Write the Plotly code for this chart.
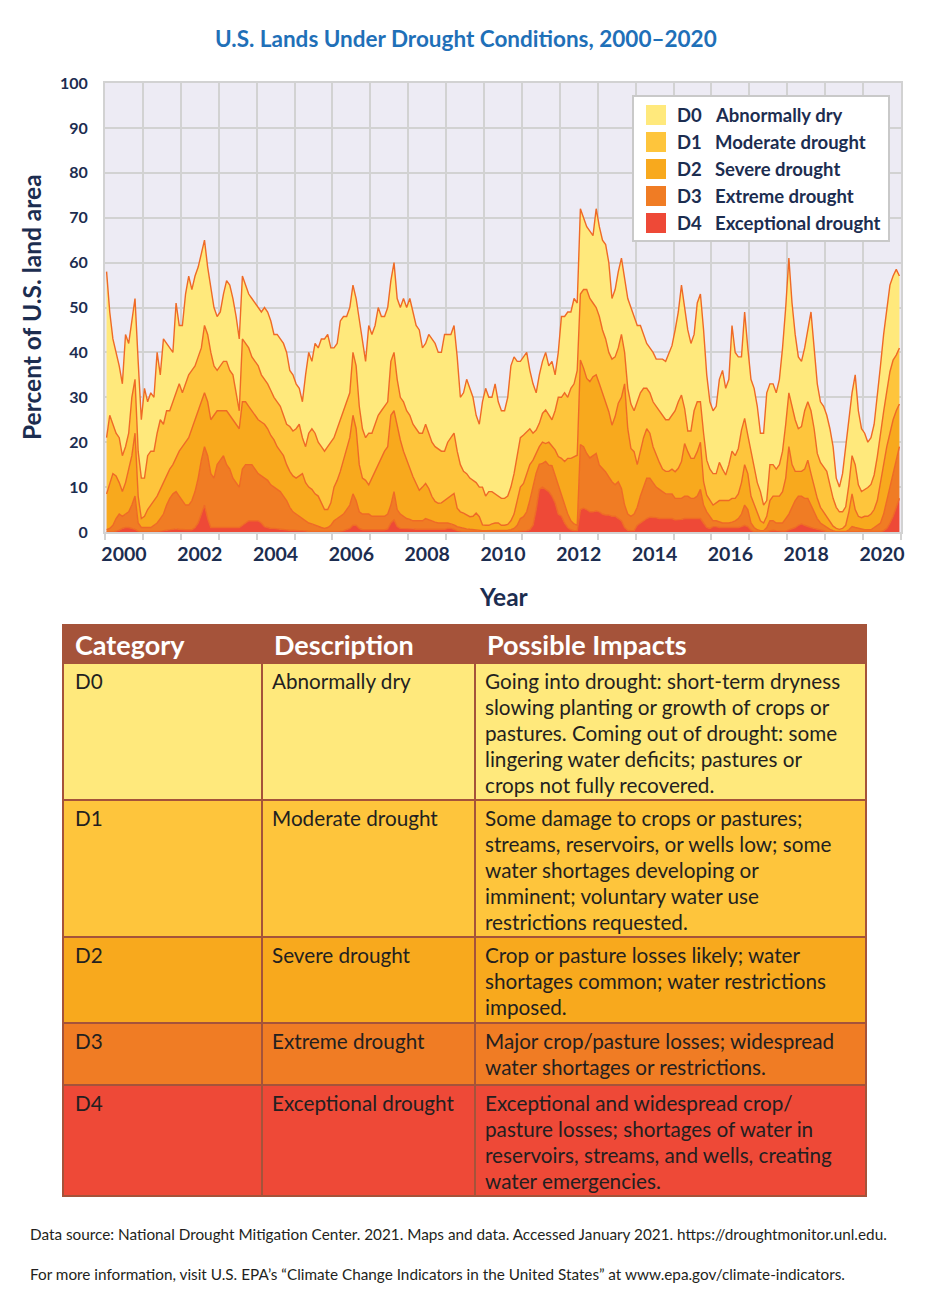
import numpy as np
import plotly.graph_objects as go

# ---------------- data (percent of U.S. land area, cumulative categories, monthly 2000-2020) -------------
years = list(range(2000, 2021))
months = list(range(12))

d0_d4 = [
    58, 49, 43, 40, 37, 33, 44, 42, 47, 52, 38, 25,   # 2000
    32, 29, 31, 30, 40, 35, 43, 42, 41, 40, 51, 46,   # 2001
    46, 53, 57, 54, 57, 59, 62, 65, 59, 54, 50, 48,   # 2002
    49, 53, 56, 55, 52, 48, 43, 57, 55, 53, 52, 51,   # 2003
    50, 49, 50, 49, 47, 44, 44, 43, 42, 40, 36, 35,   # 2004
    33, 32, 29, 35, 40, 38, 42, 41, 43, 43, 44, 41,   # 2005
    41, 42, 47, 48, 48, 50, 55, 52, 47, 43, 38, 46,   # 2006
    44, 46, 50, 48, 48, 50, 56, 60, 52, 50, 52, 50,   # 2007
    52, 49, 46, 45, 41, 42, 44, 43, 42, 40, 40, 44,   # 2008
    44, 44, 46, 39, 30, 31, 34, 32, 30, 26, 24, 29,   # 2009
    32, 30, 30, 33, 29, 27, 27, 30, 37, 39, 38, 38,   # 2010
    39, 40, 36, 33, 31, 35, 38, 40, 37, 38, 35, 40,   # 2011
    48, 48, 49, 49, 52, 51, 72, 70, 68, 67, 66, 72,   # 2012
    68, 65, 64, 60, 52, 54, 58, 61, 56, 52, 50, 48,   # 2013
    46, 46, 44, 42, 41, 40, 38.5, 38.5, 38.5, 38, 40, 41.5,  # 2014
    45, 49, 55, 50, 45, 42, 44, 51, 53, 45, 35, 29,   # 2015
    27, 28, 34, 36, 32, 34, 46, 40, 39, 39, 49, 41,   # 2016
    34, 32, 28, 22, 22, 31, 33, 33, 31, 34, 41, 50,   # 2017
    61, 51, 44, 39, 38, 41, 45, 49, 41, 33, 29, 28,   # 2018
    26, 23, 19, 12, 10, 13, 19, 25, 31, 35, 27, 23,   # 2019
    22, 20, 21, 24, 30, 37, 44, 50, 55, 57, 58.5, 57, # 2020
]

d1_d4 = [
    21, 26, 24, 22, 21, 17, 19, 22, 30, 34, 18, 12,
    12, 17, 18, 18, 22, 25, 24, 27, 27, 29, 31, 33,
    31, 33, 35, 36, 37, 39, 41, 46, 44, 40, 37, 36,
    37, 38, 38, 36, 35, 31, 27, 43, 42, 41, 39, 38,
    37, 35, 34, 33, 31.5, 30, 29, 28, 26, 24, 23.5, 22.5,
    23, 24, 21, 19, 22, 23, 22, 20, 19, 18, 19, 20,
    21, 23, 25, 27, 29, 31, 40, 37, 28, 23, 21, 22,
    22, 24, 26, 27, 28, 29, 38, 40, 34, 30, 29, 27,
    26, 24, 23, 22, 22, 24, 22, 20, 19, 18.5, 18, 18,
    20, 21, 22, 18, 15, 13.5, 13, 12, 11.5, 11, 10, 10,
    8, 9, 9, 8.5, 8, 7.5, 7.5, 8, 10, 13, 17, 21,
    21.6, 22.3, 23, 22, 22.7, 24.2, 26.4, 27.2, 26, 25, 27, 30,
    30, 31, 30, 32, 33, 36, 53, 54, 54, 52, 51, 50,
    48, 45, 43, 40, 38.5, 39, 41, 44, 40, 32, 28.5, 27,
    29, 31, 32, 32, 31, 29, 28, 27, 26, 25, 25, 26,
    27, 29, 30.5, 27.5, 22.5, 22.5, 27, 29, 29, 22, 16, 14,
    13, 13, 15.5, 14, 12.7, 15, 18, 17, 18.6, 22.7, 25.3, 21.6,
    18, 14, 11, 9, 6, 7, 15, 15, 14, 15, 18, 24,
    31, 28, 25, 23, 23.5, 27, 29, 27, 23, 17.5, 15.5, 14.5,
    13.5, 10.5, 7.5, 5.5, 4.5, 4.5, 5.6, 10.5, 17, 15, 10.5, 9,
    9.4, 9.9, 10.6, 12.7, 16.8, 22.3, 26.8, 31.3, 35.7, 38.3, 39.4, 41,
]

d2_d4 = [
    8.5, 11, 13, 12.5, 11, 9, 11, 14, 17, 22, 8, 3,
    3.5, 5, 6, 7, 8, 9.5, 11, 12.5, 14, 15, 16.5, 18,
    19, 20, 21, 23, 25, 27, 29, 31, 29, 25, 26, 27,
    27, 27, 27, 26, 25, 24, 23, 29, 29, 28, 27, 26,
    25, 24.5, 24, 23, 21.5, 20.5, 19, 18, 17, 15, 13.5, 12.5,
    12, 12.5, 13, 11, 10, 9.5, 8.5, 8, 6.5, 5, 5, 6.5,
    10, 11.5, 13.5, 16, 19, 21, 26, 23, 15, 12, 11.5, 10.5,
    12, 13.5, 15, 16.5, 18, 19, 26, 27, 23.5, 20.5, 18, 16,
    14.5, 12.3, 10.8, 9.3, 10, 10.8, 9.7, 7.9, 6.8, 6.4, 6.5, 7,
    7.5, 8.2, 8.6, 5.3, 4.5, 4.2, 3.8, 3.4, 3.5, 4.2, 3.4, 1.6,
    1.5, 1.5, 1.8, 2, 2, 1.5, 1.5, 1.7, 2.5, 4, 7, 10,
    10.8, 13, 15, 16, 17.5, 19, 20, 19.7, 20, 19.2, 18.3, 16.8,
    16.4, 15.7, 16.4, 16.4, 16.8, 17.1, 38.3, 36.5, 34.2, 33.5, 34.6, 35,
    33, 31, 28.7, 26.8, 23.8, 25.7, 28.7, 30, 33, 23, 18.6, 17.9,
    15, 18, 21, 23, 22, 19, 17, 15.5, 14, 13.5, 13.5, 14,
    13.4, 14.2, 15.7, 19.7, 17.9, 16.4, 16.4, 17.9, 20, 11.2, 8.2, 7.1,
    6, 6.5, 7, 7, 7, 7, 7.5, 7.5, 8.5, 11, 15, 13,
    8, 6, 4, 2.5, 2, 3.5, 7, 8, 8, 8, 9, 12,
    19, 15, 13.5, 13.5, 13.5, 14, 16, 13, 10, 7.5, 5.5, 4.5,
    3.5, 2.5, 1.3, 0.8, 0.6, 0.8, 1.5, 4.5, 8.5, 5, 3.5, 3.2,
    3.5, 3.5, 4, 5, 7, 11, 15, 19, 22, 25, 27, 28.5,
]

d3_d4 = [
    0.5, 0.8, 1.5, 3, 4, 3.5, 4, 4.5, 6, 8, 2, 1,
    1, 1, 1, 1.5, 2, 3, 4, 6, 7.5, 8.5, 9, 8,
    7, 6, 6, 7, 9, 12, 16, 19, 17, 13, 12, 15,
    16, 17, 15, 14, 12, 11, 10, 14, 15, 15, 15, 14,
    13, 12.5, 12, 11.5, 10.5, 10, 9.5, 9, 8, 7, 5.5, 4.5,
    4, 3.5, 3, 2.5, 2, 1.8, 1.5, 1.2, 1, 0.8, 1, 1.5,
    2.5, 3, 3.5, 4, 5, 6, 8.5, 7, 4.5, 4, 4, 4,
    3.5, 3.5, 3.5, 3.5, 3.5, 4, 6, 9, 5, 4, 3.5, 3,
    2.8, 2.5, 2.5, 2.5, 2.5, 3, 2.8, 2.5, 2.2, 2, 2, 2,
    2, 1.8, 1.6, 1.2, 1, 0.8, 0.7, 0.6, 0.5, 0.5, 0.4, 0.3,
    0.3, 0.3, 0.3, 0.3, 0.3, 0.3, 0.4, 0.4, 0.5, 0.8, 1.5, 3,
    3.4, 4.5, 7.1, 10.1, 13.1, 15.1, 15.3, 15.7, 14.9, 14.8, 12.7, 10.1,
    8.5, 6, 4, 2.5, 1.8, 1.5, 19.5, 19, 17.5, 16.5, 17, 17.5,
    14.9, 14.2, 13.4, 12.3, 11.2, 10.5, 11.2, 9.7, 6, 4, 3.5, 4,
    5.5, 8, 10, 12, 12, 11, 10, 9.5, 9, 8.5, 8.5, 8.5,
    7.5, 7.5, 7.5, 8, 8, 7.5, 7.5, 8, 9.5, 6, 4.5, 3.5,
    2.5, 2.5, 2.3, 2, 2, 2, 2.2, 2.5, 3, 4, 6, 5,
    2, 1, 0.5, 0.3, 0.3, 1, 2.5, 2.5, 2, 2, 2, 3,
    4, 5.5, 7, 8, 8, 7.5, 7.5, 6, 4.5, 3, 2, 1.5,
    1, 0.6, 0.3, 0.1, 0.1, 0.1, 0.1, 0.5, 1.2, 1, 0.8, 0.6,
    0.5, 0.5, 0.5, 1, 1.5, 2, 4, 7, 10, 13, 16, 19,
]

d4_only = [
    0, 0, 0, 0.2, 0.4, 0.8, 1, 1, 0.8, 0.6, 0.2, 0.1,
    0.1, 0.1, 0.1, 0.1, 0.1, 0.2, 0.3, 0.4, 0.5, 0.6, 0.7, 0.6,
    0.5, 0.5, 0.5, 0.5, 1, 2, 4, 6, 3, 1, 1, 1,
    1, 1, 1, 1, 1, 1, 1, 1.5, 2, 2.5, 2.5, 2.5,
    2.5, 2, 1.2, 1, 0.8, 0.8, 0.7, 0.6, 0.5, 0.5, 0.4, 0.4,
    0.3, 0.3, 0.3, 0.2, 0.2, 0.1, 0.1, 0.1, 0.1, 0.1, 0.1, 0.1,
    0.1, 0.1, 0.2, 0.3, 0.5, 0.8, 1.5, 1.5, 0.8, 0.5, 0.5, 0.5,
    0.5, 0.5, 0.5, 0.5, 0.5, 0.7, 2, 2.7, 1.2, 0.8, 0.8, 0.8,
    0.8, 0.7, 0.6, 0.6, 0.5, 0.6, 0.6, 0.5, 0.5, 0.5, 0.5, 0.6,
    0.8, 0.8, 0.6, 0.3, 0.2, 0.1, 0.1, 0.1, 0.1, 0.1, 0.05, 0,
    0, 0, 0, 0, 0, 0, 0, 0, 0, 0, 0.1, 0.2,
    0.2, 0.3, 0.5, 1.5, 5, 9.5, 10, 9.5, 9, 8, 6.5, 4,
    3.5, 2, 1, 0.5, 0.3, 0.3, 5, 5.3, 5, 4.5, 4.5, 4.7,
    4.5, 4, 3.8, 3.8, 3.5, 3.5, 3, 2.5, 1, 0.4, 0.3, 0.3,
    1.5, 2, 2.5, 3, 3.3, 3.3, 3.2, 3, 3, 3, 3, 3,
    2.7, 2.7, 2.8, 3, 3, 3, 3, 3, 3, 2, 1, 0.8,
    1.2, 1.2, 1, 1, 1, 1, 1, 1, 1, 1.2, 1.5, 1.2,
    0.4, 0.1, 0, 0, 0, 0.1, 0.3, 0.4, 0.3, 0.2, 0.2, 0.2,
    0.5, 0.7, 1, 1.5, 1.8, 1.5, 1.2, 1, 0.8, 0.6, 0.4, 0.2,
    0.1, 0, 0, 0, 0, 0, 0, 0, 0, 0.05, 0.05, 0.05,
    0, 0, 0, 0, 0, 0.1, 0.3, 0.8, 2, 3.5, 5.5, 7.5,
]

categories = ["D0", "D1", "D2", "D3", "D4"]
descriptions = ["Abnormally dry", "Moderate drought", "Severe drought",
                "Extreme drought", "Exceptional drought"]
impacts = [
    ["Going into drought: short-term dryness", "slowing planting or growth of crops or",
     "pastures. Coming out of drought: some", "lingering water deficits; pastures or",
     "crops not fully recovered."],
    ["Some damage to crops or pastures;", "streams, reservoirs, or wells low; some",
     "water shortages developing or", "imminent; voluntary water use",
     "restrictions requested."],
    ["Crop or pasture losses likely; water", "shortages common; water restrictions",
     "imposed."],
    ["Major crop/pasture losses; widespread", "water shortages or restrictions."],
    ["Exceptional and widespread crop/", "pasture losses; shortages of water in",
     "reservoirs, streams, and wells, creating", "water emergencies."],
]
header_labels = ["Category", "Description", "Possible Impacts"]
x_tick_years = [y for y in years if y % 2 == 0]
y_ticks = list(range(0, 101, 10))

# ---------------- styles ----------------
cat_colors = ["#FFE97C", "#FEC53C", "#F8A91D", "#F07C24", "#EE4937"]
edge_color = "#EF6A26"
navy = "#1C2D50"
title_blue = "#1F70B8"
grid_c = "#D2D2D2"
bg_c = "#EDEBF4"
brown = "#A5533A"
txt_dark = "#231F20"
FONT = "Lato"

# page is rendered with an 8px body margin, so the figure is offset by (8, 8)
OFF = 8
W, H = 928 - OFF, 1310 - OFF
PL, PR, PT, PB = 105, 901, 83, 532   # plot area in page pixels


def xp(px):
    return (px - PL) / (PR - PL)


def yp(py):
    return (PB - py) / (PB - PT)


x = np.array([y + (m + 0.5) / 12 for y in years for m in months])
layers = [np.array(d4_only, float), np.array(d3_d4, float), np.array(d2_d4, float),
          np.array(d1_d4, float), np.array(d0_d4, float)]
for i in range(1, len(layers)):
    layers[i] = np.maximum(layers[i], layers[i - 1])

fig = go.Figure()
fill_colors = cat_colors[::-1]  # D4 at bottom
for i, (vals, col) in enumerate(zip(layers, fill_colors)):
    fig.add_trace(go.Scatter(
        x=x, y=vals, mode="lines",
        line=dict(color=edge_color, width=1.4),
        fill="tozeroy" if i == 0 else "tonexty",
        fillcolor=col, hoverinfo="skip", showlegend=False,
    ))

fig.update_layout(
    width=W, height=H,
    margin=dict(l=PL - OFF, r=W - (PR - OFF), t=PT - OFF, b=H - (PB - OFF)),
    paper_bgcolor="white", plot_bgcolor=bg_c,
    showlegend=False,
    font=dict(family=FONT, color=navy),
)
fig.update_xaxes(
    range=[2000, 2021],
    tickvals=[y + 0.5 for y in x_tick_years],
    ticktext=[str(y) for y in x_tick_years],
    ticks="", showgrid=False, zeroline=False,
    tickfont=dict(family=FONT, size=19.5, color=navy, weight="bold"),
    minor=dict(tickvals=years + [2021], showgrid=True, gridcolor=grid_c, gridwidth=2,
               ticks="outside", ticklen=6, tickcolor=grid_c, tickwidth=2),
    showline=True, mirror=True, linecolor=grid_c, linewidth=2,
    ticklabelstandoff=4,
)
fig.update_yaxes(
    range=[0, 100], tickvals=y_ticks, ticks="",
    showgrid=True, gridcolor=grid_c, gridwidth=2, zeroline=False,
    tickfont=dict(family=FONT, size=16, color=navy, weight="bold"),
    showline=True, mirror=True, linecolor=grid_c, linewidth=2,
    ticklabelstandoff=12,
)

ann = []
shapes = []


def text(px, py, s, size, color, bold=False, xanchor="left", angle=0, family=FONT):
    ann.append(dict(x=xp(px), y=yp(py), xref="paper", yref="paper", text=s,
                    showarrow=False, xanchor=xanchor, yanchor="middle", textangle=angle,
                    font=dict(family=family, size=size, color=color,
                              weight="bold" if bold else "normal")))


def rect(x0, y0, x1, y1, fill, line_color=None, lw=0):
    shapes.append(dict(type="rect", xref="paper", yref="paper",
                       x0=xp(x0), x1=xp(x1), y0=yp(y1), y1=yp(y0),
                       fillcolor=fill, layer="above",
                       line=dict(color=line_color or fill, width=lw)))


# title and axis titles
text(466, 38, "U.S. Lands Under Drought Conditions, 2000\u20132020", 22.5, title_blue, True, "center")
text(31, 307, "Percent of U.S. land area", 24.5, navy, True, "center", angle=-90)
text(504, 596, "Year", 24.5, navy, True, "center")

# legend
rect(633, 96, 889, 241, "white", "#C9C9C9", 2)
for i, (c, d, col) in enumerate(zip(categories, descriptions, cat_colors)):
    cy = 115 + 27 * i
    rect(646, cy - 10, 666, cy + 10, col)
    text(675, cy, c, 18.5, navy, True)
    text(713, cy, d, 18.5, navy, True)

# table
col_x = [63, 262, 475, 866]
row_tops = [663, 800, 937, 1023, 1085]
row_bots = [800, 937, 1023, 1085, 1196]
rect(63, 625, 866, 663, brown, brown, 2)
for j, lab in enumerate(header_labels):
    text(col_x[j] + 10, 644, lab, 27, "white", True)
for i in range(len(categories)):
    for j in range(3):
        rect(col_x[j], row_tops[i], col_x[j + 1], row_bots[i], cat_colors[i], brown, 2)
    first = row_tops[i] + 18
    text(col_x[0] + 10, first, categories[i], 20.7, txt_dark)
    text(col_x[1] + 8, first, descriptions[i], 20.7, txt_dark)
    for k, line in enumerate(impacts[i]):
        text(col_x[2] + 8, first + 26 * k, line, 20.7, txt_dark)

# footnotes
text(28, 1234, "Data source: National Drought Mitigation Center. 2021. Maps and data. "
     "Accessed January 2021. https://droughtmonitor.unl.edu.", 15.3, txt_dark)
text(28, 1274, "For more information, visit U.S. EPA\u2019s \u201cClimate Change Indicators in the "
     "United States\u201d at www.epa.gov/climate-indicators.", 15.3, txt_dark)

fig.update_layout(annotations=ann, shapes=shapes)
fig.write_html("out.html")
